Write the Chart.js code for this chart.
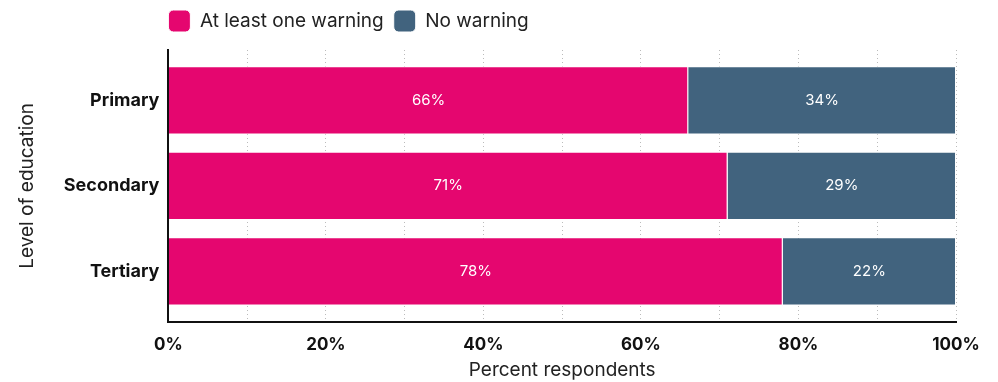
<!DOCTYPE html>
<html>
<head>
<meta charset="utf-8">
<script src="https://cdn.jsdelivr.net/npm/chart.js@4/dist/chart.umd.min.js"></script>
<style>
  html, body { margin: 0; padding: 0; background: #fff; }
  #wrap { width: 998px; height: 382px; }
</style>
</head>
<body>
<div id="wrap"><canvas id="chart"></canvas></div>
<script>
const levels = ['Primary', 'Secondary', 'Tertiary'];
const warned = [66, 71, 78];
const notWarned = [34, 29, 22];
const seriesNames = ['At least one warning', 'No warning'];
const xTicks = [0, 20, 40, 60, 80, 100];

const FONT = 'Inter, "DejaVu Sans", sans-serif';

// white % labels in the middle of each segment
const barLabels = {
    id: 'barLabels',
    afterDatasetsDraw(chart) {
        const ctx = chart.ctx;
        ctx.save();
        ctx.fillStyle = '#ffffff';
        ctx.font = '15px ' + FONT;
        ctx.textAlign = 'center';
        ctx.textBaseline = 'middle';
        chart.data.datasets.forEach((ds, di) => {
            chart.getDatasetMeta(di).data.forEach((el, i) => {
                const cx = (el.x + el.base) / 2;
                ctx.fillText(ds.data[i].x + '%', cx, el.y);
            });
        });
        ctx.restore();
    }
};

// legend: some extra room below it, and start it at the plot's left edge
const legendShift = {
    id: 'legendShift',
    beforeLayout(chart) {
        const lg = chart.legend;
        if (lg && !lg._patched) {
            const fit = lg.fit;
            lg.fit = function () { fit.call(this); this.height += 8; };
            lg._patched = true;
        }
    },
    afterLayout(chart) {
        chart.legend.left = chart.chartArea.left - 10;
    }
};

const toPoints = arr => arr.map((v, i) => ({ x: v, y: i }));

new Chart(document.getElementById('chart'), {
    type: 'bar',
    data: {
        datasets: [
            {
                label: seriesNames[0],
                data: toPoints(warned),
                backgroundColor: '#e5066f',
                borderColor: '#ffffff',
                borderWidth: 1
            },
            {
                label: seriesNames[1],
                data: toPoints(notWarned),
                backgroundColor: '#41637e',
                borderColor: '#ffffff',
                borderWidth: 1
            }
        ]
    },
    options: {
        indexAxis: 'y',
        responsive: true,
        maintainAspectRatio: false,
        animation: false,
        categoryPercentage: 1,
        barPercentage: 0.8,
        layout: { padding: { left: 16, right: 42, top: 0, bottom: 0 } },
        plugins: {
            tooltip: { enabled: false },
            legend: {
                position: 'top',
                align: 'start',
                labels: {
                    boxWidth: 22,
                    boxHeight: 22,
                    useBorderRadius: true,
                    borderRadius: 5,
                    color: '#222',
                    padding: 10,
                    font: { family: FONT, size: 19 }
                }
            }
        },
        scales: {
            x: {
                stacked: true,
                min: 0,
                max: 100,
                afterBuildTicks(scale) {
                    scale.ticks = [];
                    for (let v = 0; v <= 100; v += 10) scale.ticks.push({ value: v });
                },
                ticks: {
                    autoSkip: false,
                    maxRotation: 0,
                    color: '#111',
                    padding: 13,
                    font: { family: FONT, size: 17, weight: 'bold' },
                    callback: v => xTicks.includes(v) ? v + '%' : ''
                },
                grid: {
                    color: '#bbbbbb',
                    lineWidth: 1,
                    drawTicks: false
                },
                border: { display: true, color: '#111', width: 2, dash: [1, 3] },
                title: {
                    display: true,
                    text: 'Percent respondents',
                    color: '#222',
                    font: { family: FONT, size: 19 },
                    padding: { top: -9, bottom: 0 }
                }
            },
            y: {
                type: 'linear',
                stacked: true,
                reverse: true,
                offset: false,
                min: -0.59,
                max: 2.59,
                afterBuildTicks(scale) {
                    scale.ticks = levels.map((_, i) => ({ value: i }));
                },
                ticks: {
                    autoSkip: false,
                    color: '#111',
                    padding: 9,
                    font: { family: FONT, size: 18, weight: 'bold' },
                    callback: v => levels[v] ?? ''
                },
                grid: { display: false, drawTicks: false, offset: false },
                border: { display: true, color: '#111', width: 2 },
                title: {
                    display: true,
                    text: 'Level of education',
                    color: '#222',
                    font: { family: FONT, size: 19 },
                    padding: { top: 0, bottom: 16 }
                }
            }
        }
    },
    plugins: [barLabels, legendShift]
});
</script>
</body>
</html>
